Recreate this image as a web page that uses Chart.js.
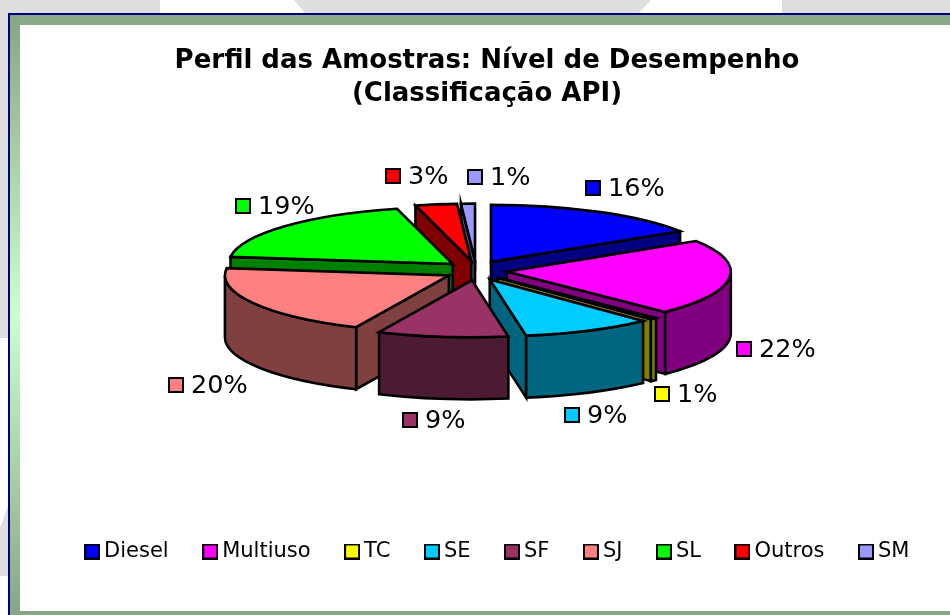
<!DOCTYPE html>
<html>
<head>
<meta charset="utf-8">
<script src="https://cdn.jsdelivr.net/npm/chart.js@4/dist/chart.umd.min.js"></script>
<style>
html,body{margin:0;padding:0;width:950px;height:615px;overflow:hidden;background:#dedede}
.w{position:absolute;background:#fff}
#frame{position:absolute;left:8px;top:13px;width:942px;height:602px;box-sizing:border-box;border-left:2px solid #000080;border-top:2px solid #000080;
background:linear-gradient(180deg,#86a686 0%,#ccffcc 50%,#86a686 100%)}
#inner{position:absolute;left:20px;top:25px;width:930px;height:586px;background:#fff}
#top{position:absolute;left:20px;top:15px;width:930px;height:10px;background:#89a989}
#bot{position:absolute;left:20px;top:611px;width:930px;height:4px;background:#86a686}
canvas{position:absolute;left:0;top:0}
</style>
</head>
<body>
<div class="w" style="left:160px;top:0;width:146px;height:14px;clip-path:polygon(0 0,134px 0,146px 14px,0 14px)"></div>
<div class="w" style="left:638px;top:0;width:144px;height:14px;clip-path:polygon(13px 0,144px 0,144px 14px,0 14px)"></div>
<div class="w" style="left:0;top:338px;width:8px;height:277px;clip-path:polygon(0 0,8px 0,8px 168px,0 190px)"></div>
<div class="w" style="left:0;top:576px;width:8px;height:39px"></div>
<div id="frame"></div><div id="top"></div><div id="inner"></div><div id="bot"></div>
<canvas id="c" width="950" height="615"></canvas>
<script>
const categories = ['Diesel','Multiuso','TC','SE','SF','SJ','SL','Outros','SM'];
const shares = [16,21.5,0.5,9.4,9.4,20.2,19,3,1];
const topColors = ['#0000FF','#FF00FF','#FFFF00','#00CCFF','#993366','#FF8080','#00FF00','#FF0000','#9999FF'];
const sideColors = ['#000080','#800080','#808000','#006680','#4D1A33','#804040','#008000','#800000','#4D4D80'];
const paintOrder = [0,8,7,6,1,2,3,5,4];
const labelSpots = [[585,188],[736,349],[654,394],[564,415],[402,420],[168,385],[235,206],[385,176],[467,177]];

const TILT = 57/224, DEPTH = 62, EXPLODE = 31, LIFT = 2;

function swatch(color){
  const c = document.createElement('canvas');
  c.width = 16; c.height = 16;
  const x = c.getContext('2d');
  x.fillStyle = '#000'; x.fillRect(0,0,16,16);
  x.fillStyle = color; x.fillRect(2,2,12,12);
  return c;
}

const pie3d = {
  id:'pie3d',
  afterLayout(chart){
    chart.titleBlock.left += 11; chart.titleBlock.right += 11;
    const lg = chart.legend;
    lg.left += 24; lg.right += 24;
    lg.top = 501; lg.bottom = lg.top + lg.height;
  },
  beforeDatasetsDraw(chart){
    const ctx = chart.ctx, arcs = chart.getDatasetMeta(0).data;
    paintOrder.forEach(i=>{
      const arc = arcs[i];
      const a0 = arc.startAngle, a1 = arc.endAngle, mid = (a0+a1)/2;
      const R = arc.outerRadius, ry = R*TILT;
      const dx = Math.cos(mid)*EXPLODE;
      const dy = Math.sin(mid)*(EXPLODE*TILT + LIFT);
      const cx = arc.x + dx, cy = arc.y + dy;
      const pt = a => [cx+Math.cos(a)*R, cy+Math.sin(a)*ry];
      ctx.save();
      ctx.lineWidth = 2.6; ctx.strokeStyle = '#000'; ctx.lineJoin = 'miter';
      ctx.fillStyle = sideColors[i];
      const radial = a => {
        const p = pt(a);
        ctx.beginPath(); ctx.moveTo(cx,cy); ctx.lineTo(p[0],p[1]);
        ctx.lineTo(p[0],p[1]+DEPTH); ctx.lineTo(cx,cy+DEPTH); ctx.closePath();
        ctx.fill(); ctx.stroke();
      };
      if (-Math.cos(a0) > 0) radial(a0);
      if (Math.cos(a1) > 0) radial(a1);
      // outer wall: only the part facing the viewer (canvas angles 0..PI)
      for (const k of [0,2]) {
        const from = Math.max(a0, k*Math.PI), to = Math.min(a1, (k+1)*Math.PI);
        if (to > from) {
          ctx.beginPath();
          ctx.ellipse(cx,cy,R,ry,0,from,to);
          ctx.ellipse(cx,cy+DEPTH,R,ry,0,to,from,true);
          ctx.closePath(); ctx.fill(); ctx.stroke();
        }
      }
      // top face, drawn by the library's arc element under the tilt
      ctx.save();
      ctx.translate(dx, cy);
      ctx.scale(1,TILT);
      ctx.translate(0,-arc.y);
      arc.draw(ctx);
      ctx.restore();
      ctx.beginPath();
      ctx.moveTo(cx,cy);
      ctx.ellipse(cx,cy,R,ry,0,a0,a1);
      ctx.closePath(); ctx.stroke();
      ctx.restore();
    });
    return false;
  },
  afterDraw(chart){
    const ctx = chart.ctx;
    ctx.save();
    ctx.font = '25.5px "DejaVu Sans"';
    ctx.textBaseline = 'middle'; ctx.textAlign = 'left';
    shares.forEach((v,i)=>{
      const [x,y] = labelSpots[i];
      ctx.fillStyle = topColors[i];
      ctx.fillRect(x,y-8,16,16);
      ctx.strokeStyle = '#000'; ctx.lineWidth = 2;
      ctx.strokeRect(x+1,y-7,14,14);
      ctx.fillStyle = '#000';
      ctx.fillText(Math.round(v)+'%',x+23,y+1);
    });
    ctx.restore();
  }
};

new Chart(document.getElementById('c'),{
  type:'pie',
  plugins:[pie3d],
  data:{labels:categories,datasets:[{
    data:shares,
    backgroundColor:topColors,
    borderWidth:0,
    radius:224,
    clip:false
  }]},
  options:{
    responsive:false,
    animation:false,
    layout:{padding:{left:2,right:0,top:0,bottom:132}},
    plugins:{
      tooltip:{enabled:false},
      title:{display:true,text:['Perfil das Amostras: Nível de Desempenho','(Classificação API)'],
        color:'#000',font:{family:'"DejaVu Sans"',size:26,weight:'bold',lineHeight:1.27},
        padding:{top:45,bottom:18}},
      legend:{display:true,position:'bottom',
        labels:{color:'#000',font:{family:'"DejaVu Sans"',size:21},padding:40,
          usePointStyle:true,pointStyleWidth:3,
          generateLabels:()=>categories.map((t,i)=>({text:t,fillStyle:topColors[i],strokeStyle:'#000',lineWidth:2,pointStyle:swatch(topColors[i]),hidden:false,index:i}))}}
    }
  }
});
</script>
</body>
</html>
